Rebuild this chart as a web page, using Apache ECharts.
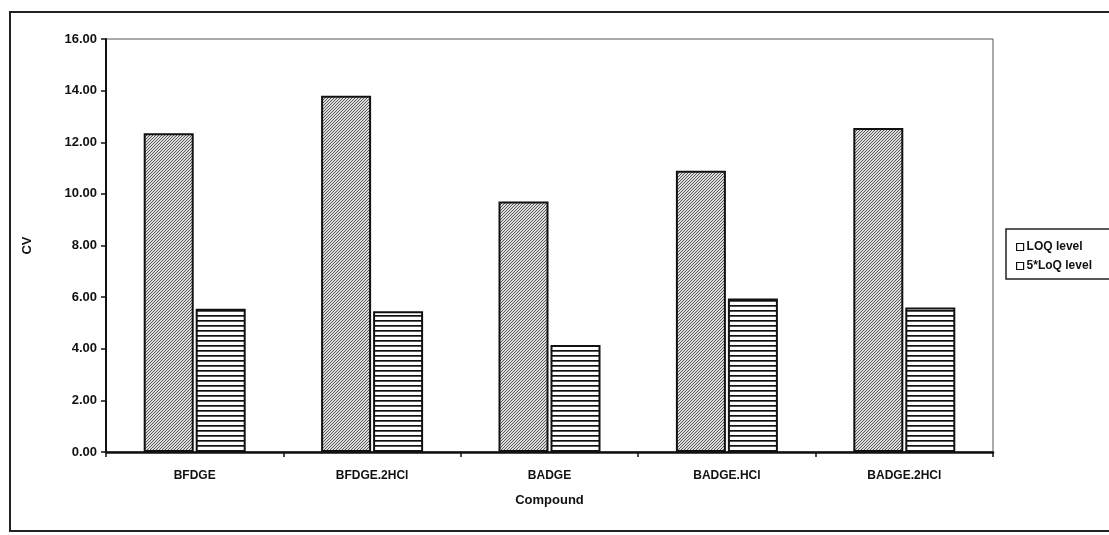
<!DOCTYPE html>
<html>
<head>
<meta charset="utf-8">
<script src="https://cdn.jsdelivr.net/npm/echarts@6/dist/echarts.min.js"></script>
<style>
  html, body { margin: 0; padding: 0; background: #fff; }
  #chart { width: 1109px; height: 535px; }
</style>
</head>
<body>
<div id="chart"></div>
<script>
const categories = ['BFDGE', 'BFDGE.2HCl', 'BADGE', 'BADGE.HCl', 'BADGE.2HCl'];
const loqLevel = [12.35, 13.80, 9.70, 10.90, 12.55];
const fiveLoqLevel = [5.55, 5.45, 4.15, 5.95, 5.60];
const seriesNames = ['LOQ level', '5*LoQ level'];
const yTicks = [0, 2, 4, 6, 8, 10, 12, 14, 16];

const FONT = '"Liberation Sans Narrow", "Liberation Sans", Arial, sans-serif';

// Diagonal hatch over a light grey base
function diagonalPattern() {
  const c = document.createElement('canvas');
  c.width = 12; c.height = 12;
  const g = c.getContext('2d');
  g.fillStyle = '#dcdcdc';
  g.fillRect(0, 0, 12, 12);
  g.strokeStyle = '#4a4a4a';
  g.lineWidth = 0.9;
  for (let k = -12; k <= 24; k += 3) {
    g.beginPath();
    g.moveTo(k, 12);
    g.lineTo(k + 12, 0);
    g.stroke();
  }
  return c;
}

// Horizontal stripes on white
function horizontalPattern() {
  const c = document.createElement('canvas');
  c.width = 8; c.height = 5;
  const g = c.getContext('2d');
  g.fillStyle = '#ffffff';
  g.fillRect(0, 0, 8, 5);
  g.fillStyle = '#111111';
  g.fillRect(0, 0, 8, 1.7);
  return c;
}

const fills = [
  { image: diagonalPattern(), repeat: 'repeat' },
  { image: horizontalPattern(), repeat: 'repeat' }
];

const chart = echarts.init(document.getElementById('chart'));
chart.setOption({
  backgroundColor: '#ffffff',
  animation: false,
  grid: { left: 106, top: 39, right: 116, bottom: 83, show: true, borderColor: '#555', borderWidth: 1 },
  legend: {
    orient: 'vertical',
    left: 1011, top: 236,
    itemWidth: 7, itemHeight: 7, itemGap: 7,
    icon: 'rect',
    textStyle: { fontFamily: FONT, fontSize: 12, fontWeight: 'bold', color: '#111', padding: [0, 0, 0, -2] },
    data: seriesNames.map(n => ({ name: n, itemStyle: { color: '#fff', borderColor: '#111', borderWidth: 1.2 } }))
  },
  xAxis: {
    type: 'category',
    data: categories,
    name: 'Compound',
    nameLocation: 'middle',
    nameGap: 42,
    nameTextStyle: { fontFamily: FONT, fontSize: 13, fontWeight: 'bold', color: '#111' },
    axisLine: { lineStyle: { color: '#111', width: 2.5 } },
    axisTick: { show: true, length: 5, lineStyle: { color: '#111', width: 1.5 } },
    axisLabel: { fontFamily: FONT, fontSize: 12, fontWeight: 'bold', color: '#111', margin: 18 }
  },
  yAxis: {
    type: 'value',
    min: 0, max: 16, interval: 2,
    name: 'CV',
    nameLocation: 'middle',
    nameGap: 72,
    nameRotate: 90,
    nameTextStyle: { fontFamily: FONT, fontSize: 13, fontWeight: 'bold', color: '#111' },
    axisLine: { show: true, lineStyle: { color: '#111', width: 2 } },
    axisTick: { show: true, length: 5, lineStyle: { color: '#111', width: 1.5 } },
    splitLine: { show: false },
    axisLabel: {
      fontFamily: FONT, fontSize: 13, fontWeight: 'bold', color: '#111', margin: 9,
      formatter: v => yTicks.includes(v) ? v.toFixed(2) : ''
    }
  },
  series: [
    {
      name: seriesNames[0], type: 'bar', data: loqLevel,
      barWidth: 50, barGap: '4%',
      itemStyle: { color: fills[0], borderColor: '#111', borderWidth: 2 }
    },
    {
      name: seriesNames[1], type: 'bar', data: fiveLoqLevel,
      barWidth: 50,
      itemStyle: { color: fills[1], borderColor: '#111', borderWidth: 2 }
    }
  ],
  graphic: [
    { type: 'rect', shape: { x: 10, y: 12, width: 1120, height: 519 }, style: { fill: null, stroke: '#222', lineWidth: 2 }, silent: true },
    { type: 'rect', shape: { x: 1006, y: 229, width: 120, height: 50 }, style: { fill: null, stroke: '#222', lineWidth: 1.5 }, silent: true }
  ]
});
</script>
</body>
</html>
